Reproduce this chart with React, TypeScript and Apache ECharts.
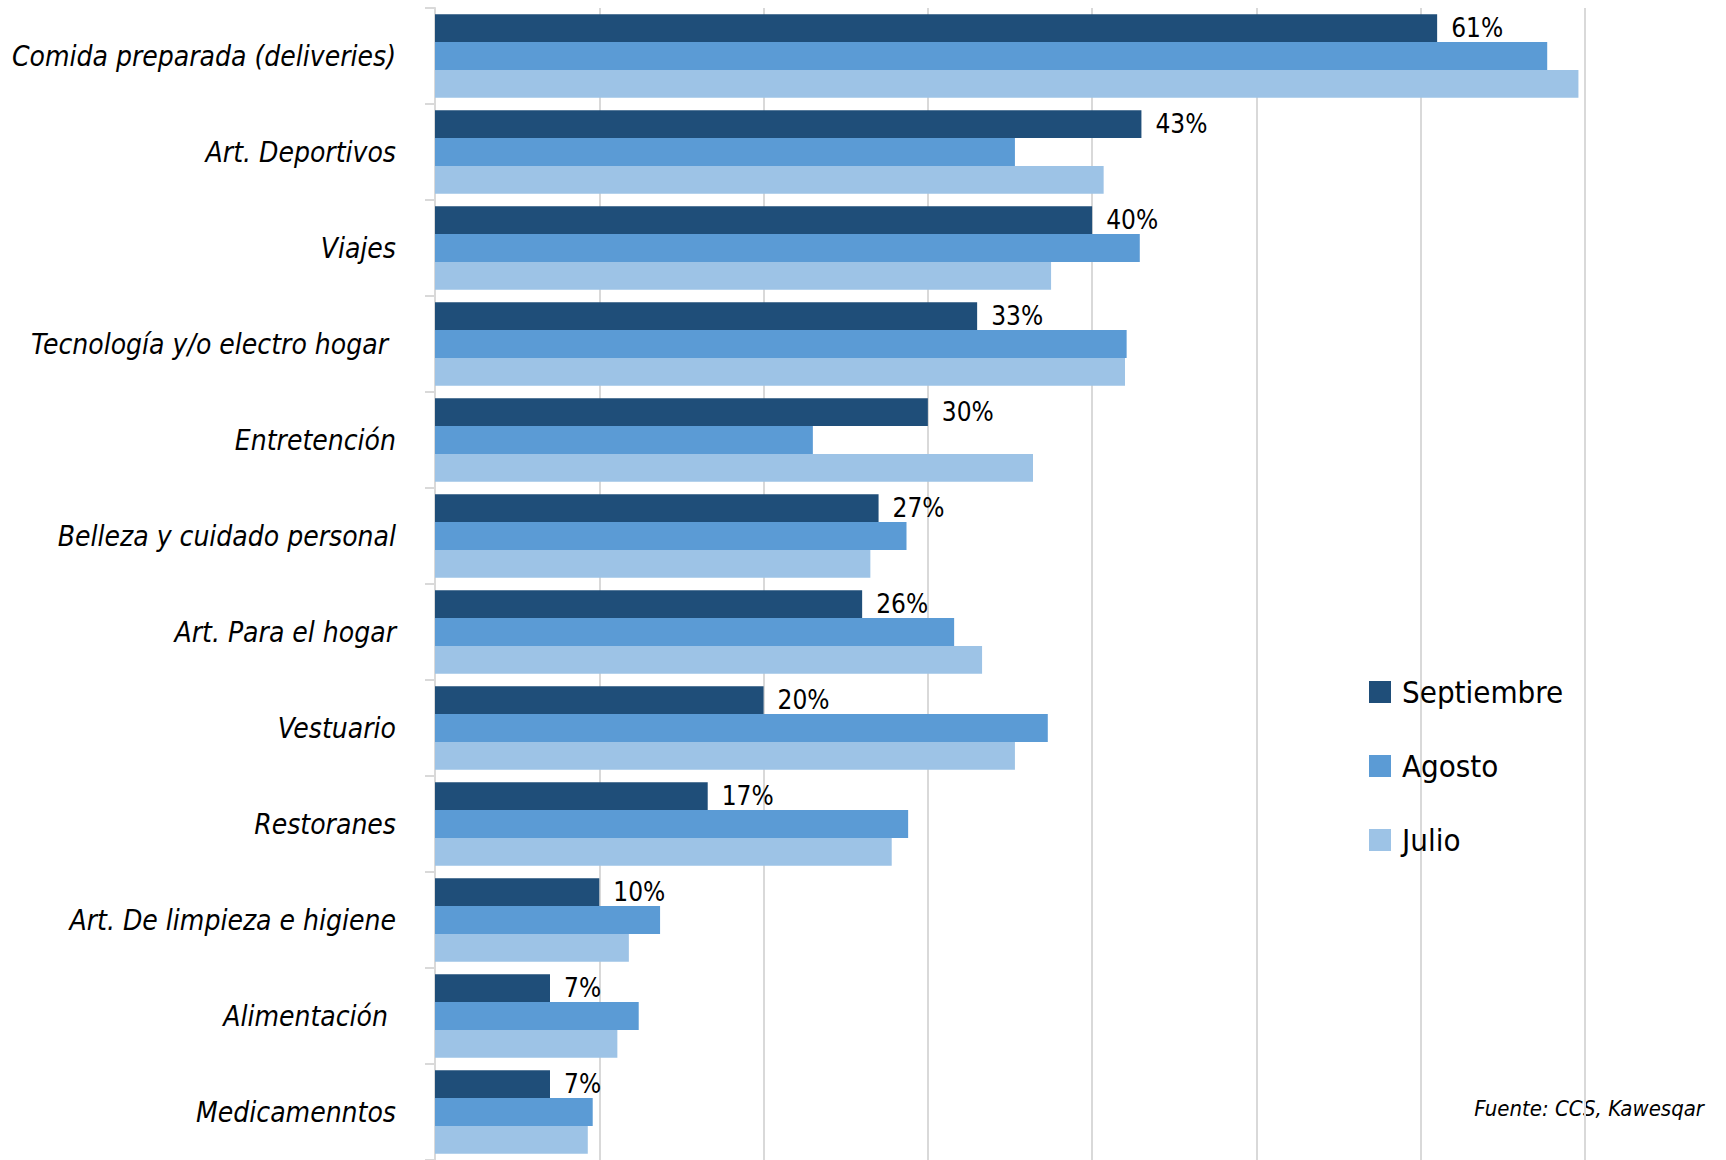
import React, { useEffect, useRef } from "react";
import * as echarts from "echarts";

const categories = [
  "Comida preparada (deliveries)",
  "Art. Deportivos",
  "Viajes",
  "Tecnología y/o electro hogar ",
  "Entretención",
  "Belleza y cuidado personal",
  "Art. Para el hogar",
  "Vestuario",
  "Restoranes",
  "Art. De limpieza e higiene",
  "Alimentación ",
  "Medicamenntos",
];

const septiembre = [61, 43, 40, 33, 30, 27, 26, 20, 16.6, 10, 7, 7];
const agosto = [67.7, 35.3, 42.9, 42.1, 23.0, 28.7, 31.6, 37.3, 28.8, 13.7, 12.4, 9.6];
const julio = [69.6, 40.7, 37.5, 42.0, 36.4, 26.5, 33.3, 35.3, 27.8, 11.8, 11.1, 9.3];

const seriesNames = ["Septiembre", "Agosto", "Julio"];
const colors = ["#1f4e79", "#5b9bd5", "#9dc3e6"];
const sourceText = "Fuente: CCS, Kawesqar";

const NARROW = "'DejaVu Sans Condensed', 'Liberation Sans Narrow', sans-serif";

export default function App() {
  const ref = useRef<HTMLDivElement>(null);

  useEffect(() => {
    document.body.style.margin = "0";
    if (!ref.current) return;
    const chart = echarts.init(ref.current, null, { renderer: "svg" });
    const option = {
      animation: false,
      backgroundColor: "#ffffff",
      grid: {
        left: 435,
        right: 141,
        top: 8,
        bottom: 0,
        containLabel: false,
        outerBoundsMode: "none",
      },
      legend: {
        orient: "vertical",
        left: 1369,
        top: 674,
        padding: 0,
        itemWidth: 22,
        itemHeight: 22,
        itemGap: 38,
        icon: "rect",
        data: seriesNames,
        textStyle: {
          fontFamily: NARROW,
          fontSize: 31,
          color: "#000",
          lineHeight: 36,
          padding: [0, 0, 0, 6],
        },
      },
      xAxis: {
        type: "value",
        min: 0,
        max: 70,
        interval: 10,
        axisLabel: { show: false },
        axisLine: { show: false },
        axisTick: { show: false },
        splitLine: { show: true, lineStyle: { color: "#d9d9d9", width: 2 } },
      },
      yAxis: {
        type: "category",
        inverse: true,
        data: categories,
        axisLine: { show: true, lineStyle: { color: "#d9d9d9", width: 2 } },
        axisTick: { show: true, length: 10, lineStyle: { color: "#d9d9d9", width: 2 } },
        axisLabel: {
          margin: 39,
          fontFamily: NARROW,
          fontStyle: "italic",
          fontSize: 28,
          color: "#000",
        },
      },
      series: [
        {
          name: seriesNames[0],
          type: "bar",
          data: septiembre,
          itemStyle: { color: colors[0] },
          barGap: "0%",
          barCategoryGap: "13%",
          label: {
            show: true,
            position: "right",
            distance: 14,
            fontFamily: NARROW,
            fontSize: 26,
            color: "#000",
            formatter: (p: any) => Math.round(p.value) + "%",
          },
        },
        {
          name: seriesNames[1],
          type: "bar",
          data: agosto,
          itemStyle: { color: colors[1] },
          barGap: "0%",
          barCategoryGap: "13%",
        },
        {
          name: seriesNames[2],
          type: "bar",
          data: julio,
          itemStyle: { color: colors[2] },
          barGap: "0%",
          barCategoryGap: "13%",
        },
      ],
      graphic: [
        {
          type: "text",
          right: 22,
          top: 1097,
          style: {
            text: sourceText,
            fontFamily: NARROW,
            fontStyle: "italic",
            fontSize: 22,
            fill: "#000",
          },
        },
      ],
    };
    chart.setOption(option as any);
    return () => chart.dispose();
  }, []);

  return <div ref={ref} style={{ width: 1726, height: 1160 }} />;
}
